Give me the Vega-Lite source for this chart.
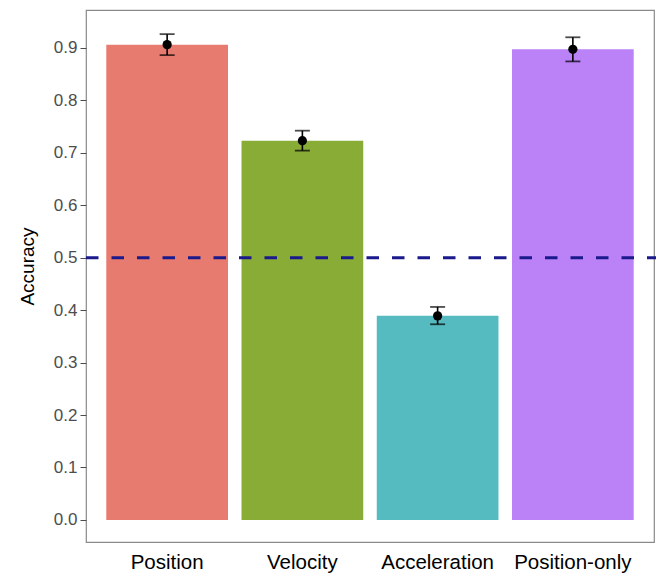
{
  "$schema": "https://vega.github.io/schema/vega-lite/v6.json",
  "autosize": {"type": "none"},
  "padding": {"left": 86, "top": 10, "right": 6, "bottom": 32},
  "width": 568,
  "height": 532,
  "config": {
    "font": "Liberation Sans",
    "view": {"stroke": "#8a8a8a", "strokeWidth": 1.2}
  },
  "data": {
    "values": [
      {"condition": "Position", "accuracy": 0.906, "lo": 0.886, "hi": 0.926},
      {"condition": "Velocity", "accuracy": 0.723, "lo": 0.704, "hi": 0.742},
      {"condition": "Acceleration", "accuracy": 0.389, "lo": 0.373, "hi": 0.406},
      {"condition": "Position-only", "accuracy": 0.897, "lo": 0.874, "hi": 0.920}
    ]
  },
  "encoding": {
    "x": {
      "field": "condition",
      "type": "nominal",
      "sort": ["Position", "Velocity", "Acceleration", "Position-only"],
      "scale": {"paddingInner": 0.1, "paddingOuter": 0.15},
      "axis": {
        "title": null,
        "labelAngle": 0,
        "labelFontSize": 20.5,
        "labelColor": "#000000",
        "ticks": false,
        "domain": false,
        "labelPadding": 10
      }
    }
  },
  "layer": [
    {
      "mark": {"type": "bar"},
      "encoding": {
        "y": {
          "field": "accuracy",
          "type": "quantitative",
          "scale": {"domain": [-0.042, 0.972], "zero": false, "nice": false},
          "axis": {
            "title": "Accuracy",
            "titleFontSize": 19,
            "titleFontWeight": "normal",
            "titleColor": "#000000",
            "titlePadding": 16,
            "titleY": 256,
            "values": [0, 0.1, 0.2, 0.3, 0.4, 0.5, 0.6, 0.7, 0.8, 0.9],
            "format": ".1f",
            "labelFontSize": 17,
            "labelColor": "#4d4d4d",
            "tickColor": "#4d4d4d",
            "tickSize": 6,
            "labelPadding": 3,
            "grid": false,
            "domain": false
          }
        },
        "y2": {"datum": 0},
        "color": {
          "field": "condition",
          "type": "nominal",
          "scale": {
            "domain": ["Position", "Velocity", "Acceleration", "Position-only"],
            "range": ["#E87B6F", "#89AC37", "#55BBC1", "#BB82F8"]
          },
          "legend": null
        }
      }
    },
    {
      "mark": {"type": "rule", "color": "#000000", "strokeWidth": 1.6},
      "encoding": {
        "y": {"field": "lo", "type": "quantitative"},
        "y2": {"field": "hi"}
      }
    },
    {
      "mark": {"type": "tick", "color": "#000000", "size": 15, "thickness": 1.8},
      "encoding": {"y": {"field": "lo", "type": "quantitative"}}
    },
    {
      "mark": {"type": "tick", "color": "#000000", "size": 15, "thickness": 1.8},
      "encoding": {"y": {"field": "hi", "type": "quantitative"}}
    },
    {
      "mark": {"type": "point", "filled": true, "color": "#000000", "opacity": 1, "size": 85},
      "encoding": {"y": {"field": "accuracy", "type": "quantitative"}}
    },
    {
      "data": {"values": [{"chance": 0.5}]},
      "mark": {"type": "rule", "color": "#1a1a8c", "strokeWidth": 3, "strokeDash": [12.5, 13]},
      "encoding": {
        "x": {"value": 0},
        "x2": {"value": 570},
        "y": {"field": "chance", "type": "quantitative"}
      }
    }
  ]
}
